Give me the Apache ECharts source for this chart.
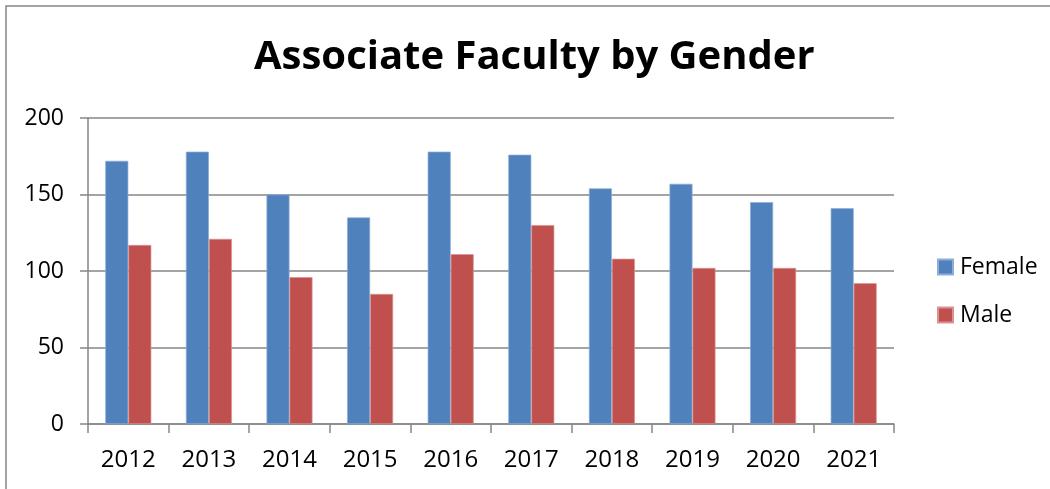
<!DOCTYPE html>
<html>
<head>
<meta charset="utf-8">
<script src="https://cdn.jsdelivr.net/npm/echarts@6/dist/echarts.min.js"></script>
<style>
html,body{margin:0;padding:0;background:#fff;}
#chart{width:1050px;height:489px;}
</style>
</head>
<body>
<div id="chart"></div>
<script>
const titleText = 'Associate Faculty by Gender';
const categories = ['2012','2013','2014','2015','2016','2017','2018','2019','2020','2021'];
const femaleValues = [172, 178, 150, 135, 178, 176, 154, 157, 145, 141];
const maleValues = [117, 121, 96, 85, 111, 130, 108, 102, 102, 92];
const seriesNames = ['Female', 'Male'];

const FONT = '"Open Sans", sans-serif';
const chart = echarts.init(document.getElementById('chart'), null, {renderer: 'canvas'});
chart.setOption({
  animation: false,
  backgroundColor: '#ffffff',
  title: {
    text: titleText,
    left: 254,
    top: 38,
    padding: 0,
    textStyle: {fontFamily: FONT, fontWeight: 'bold', fontSize: 40, color: '#000'}
  },
  graphic: [{
    type: 'rect',
    shape: {x: 6, y: 6, width: 1200, height: 600},
    style: {fill: 'none', stroke: '#878787', lineWidth: 1.5},
    silent: true
  }],
  legend: {
    orient: 'vertical',
    left: 937,
    top: 255,
    padding: 0,
    itemWidth: 15,
    itemHeight: 15,
    itemGap: 24,
    icon: 'rect',
    data: seriesNames,
    textStyle: {fontFamily: FONT, fontSize: 23, color: '#000', lineHeight: 24, padding: [0,0,0,2]}
  },
  grid: {left: 88, right: 156, top: 118, bottom: 65, containLabel: false},
  xAxis: {
    type: 'category',
    data: categories,
    boundaryGap: true,
    axisLine: {show: true, lineStyle: {color: '#868686', width: 1.5}},
    axisTick: {show: true, inside: false, length: 9, alignWithLabel: false, lineStyle: {color: '#868686', width: 1.5}},
    axisLabel: {fontFamily: FONT, fontSize: 24, color: '#000', margin: 24},
    splitLine: {show: false}
  },
  yAxis: {
    type: 'value',
    min: 0, max: 200, interval: 50,
    axisLine: {show: true, lineStyle: {color: '#868686', width: 1.5}},
    axisTick: {show: true, inside: false, length: 8, lineStyle: {color: '#868686', width: 1.5}},
    axisLabel: {fontFamily: FONT, fontSize: 23, color: '#000', margin: 24},
    splitLine: {show: true, lineStyle: {color: '#868686', width: 1.5}}
  },
  series: [
    {
      name: seriesNames[0], type: 'bar', data: femaleValues,
      barWidth: 23, barGap: '0%',
      itemStyle: {color: '#4F81BD', borderColor: '#8eaed6', borderWidth: 0.7}
    },
    {
      name: seriesNames[1], type: 'bar', data: maleValues,
      barWidth: 23, barGap: '0%',
      itemStyle: {color: '#C0504D', borderColor: '#d99492', borderWidth: 0.7}
    }
  ]
});
</script>
</body>
</html>
